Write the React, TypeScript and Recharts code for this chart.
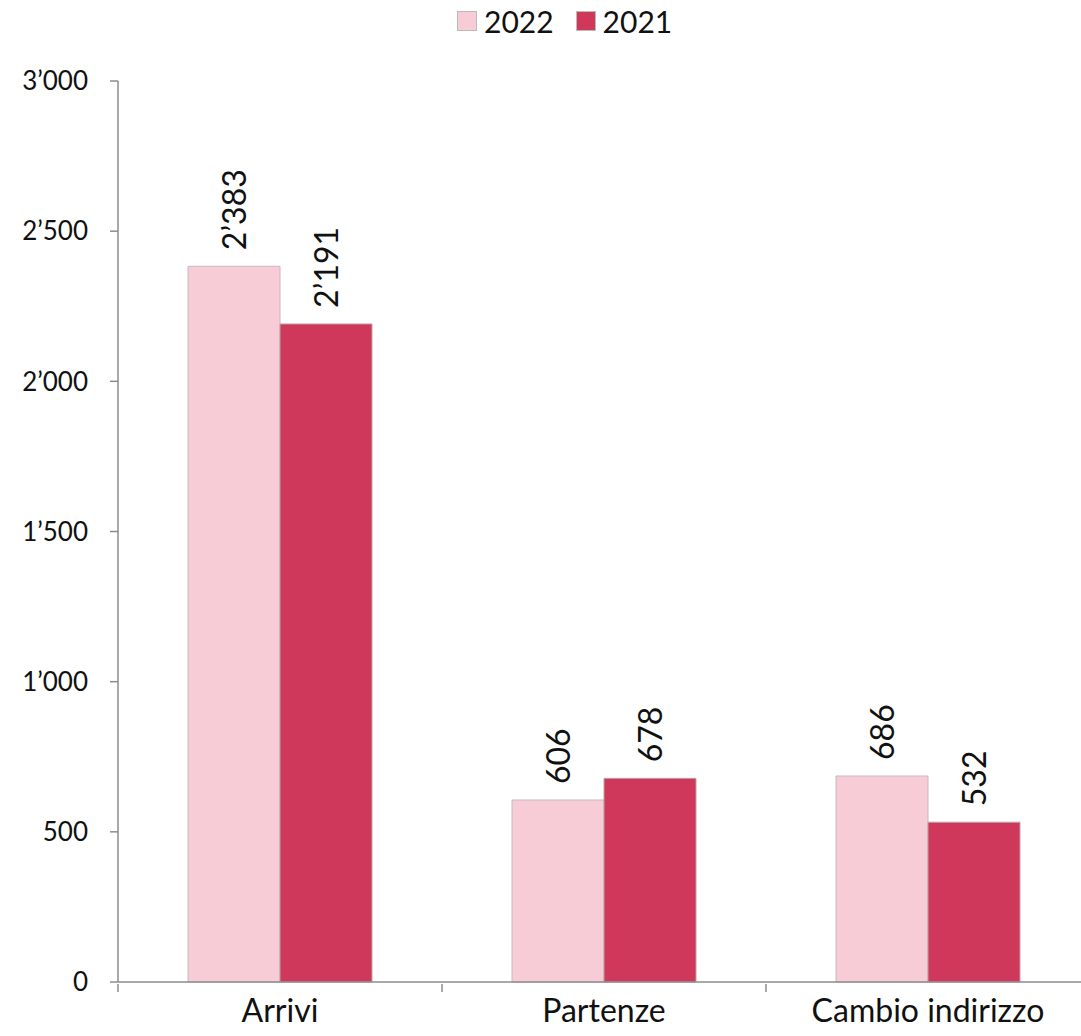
import { BarChart, Bar, XAxis, YAxis, LabelList } from "recharts";

const CATEGORIES = ["Arrivi", "Partenze", "Cambio indirizzo"];
const VALUES_2022 = [2383, 606, 686];
const VALUES_2021 = [2191, 678, 532];
const Y_TICKS = [0, 500, 1000, 1500, 2000, 2500, 3000];

const PINK = "#f8ccd7";
const RED = "#cf385b";
const AXIS = "#8c8c8c";
const FONT = "Lato, 'Noto Sans', sans-serif";

const SERIES = [
  { key: "v2022", name: "2022", color: PINK, stroke: "#c8b9bd" },
  { key: "v2021", name: "2021", color: RED, stroke: "#b9a3a9" },
];

const W = 1100;
const H = 1036;
const M = { top: 81, right: 10, left: 0, bottom: 0 };
const Y_W = 118;
const PLOT_W = W - M.left - M.right - Y_W;

const data = CATEGORIES.map((name, i) => ({ name, v2022: VALUES_2022[i], v2021: VALUES_2021[i] }));

const fmt = (n: number) => String(n).replace(/\B(?=(\d{3})+(?!\d))/g, "\u2019");

function CatTick({ x, y, payload, index }: any) {
  const half = PLOT_W / CATEGORIES.length / 2;
  return (
    <g>
      <line x1={x - half} x2={x - half} y1={y - 8} y2={y} stroke={AXIS} strokeWidth={1.5} />
      {index === CATEGORIES.length - 1 && (
        <line x1={x + half} x2={x + half} y1={y - 8} y2={y} stroke={AXIS} strokeWidth={1.5} />
      )}
      <text x={x} y={y + 4} textAnchor="middle" dominantBaseline="hanging" fontSize={32} fontFamily={FONT} fill="#111">
        {payload.value}
      </text>
    </g>
  );
}

function VLabel({ x, y, width, value }: any) {
  const cx = x + width / 2;
  const cy = y - 16;
  return (
    <text x={cx} y={cy} transform={`rotate(-90 ${cx} ${cy})`} textAnchor="start" dominantBaseline="central" fontSize={32} fontFamily={FONT} fill="#111">
      {fmt(value)}
    </text>
  );
}

function LegendBox() {
  return (
    <div style={{ position: "absolute", top: 3, left: 457, display: "flex", alignItems: "center", fontFamily: FONT, fontSize: 30, color: "#111", zIndex: 2 }}>
      {SERIES.map((s) => (
        <div key={s.key} style={{ display: "flex", alignItems: "center", marginRight: 22 }}>
          <span style={{ width: 20, height: 20, background: s.color, border: "1px solid #bbb", boxSizing: "border-box", marginRight: 7 }} />
          <span>{s.name}</span>
        </div>
      ))}
    </div>
  );
}

export default function App() {
  return (
    <div style={{ position: "absolute", left: 0, top: 0, width: 1081, height: 1036, overflow: "hidden", background: "#fff" }}>
      <LegendBox />
      <BarChart width={W} height={H} data={data} margin={M} barCategoryGap={70} barGap={0}>
        <YAxis
          width={Y_W}
          domain={[0, 3000]}
          ticks={Y_TICKS}
          tickFormatter={fmt}
          axisLine={{ stroke: AXIS, strokeWidth: 1.5 }}
          tickLine={{ stroke: AXIS, strokeWidth: 1.5 }}
          tickSize={8}
          tickMargin={22}
          tick={{ fontSize: 26, fontFamily: FONT, fill: "#111" }}
        />
        <XAxis
          dataKey="name"
          height={H - M.top - 901}
          axisLine={{ stroke: AXIS, strokeWidth: 1.5 }}
          tickLine={false}
          tick={<CatTick />}
          interval={0}
          tickSize={8}
        />
        {SERIES.map((s) => (
          <Bar key={s.key} dataKey={s.key} name={s.name} fill={s.color} stroke={s.stroke} strokeWidth={1} isAnimationActive={false}>
            <LabelList dataKey={s.key} content={<VLabel />} />
          </Bar>
        ))}
      </BarChart>
    </div>
  );
}
